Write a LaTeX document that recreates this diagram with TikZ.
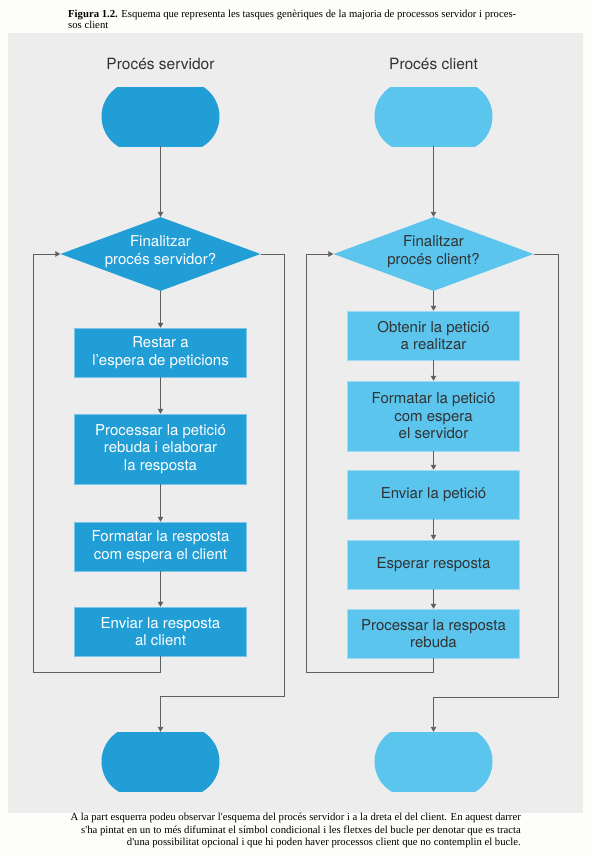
\documentclass[tikz,border=0pt]{standalone}
\usepackage{fontspec}
\setmainfont{Liberation Serif}[Ligatures=TeXOff]
\newfontfamily\helv{TeX Gyre Heros}
\usetikzlibrary{shapes.geometric,arrows.meta}
\definecolor{srv}{RGB}{33,158,214}
\definecolor{cli}{RGB}{91,197,238}
\definecolor{panel}{RGB}{237,237,237}
\definecolor{paper}{RGB}{253,253,249}
\definecolor{lineg}{RGB}{95,95,95}
\definecolor{ctext}{RGB}{50,50,50}
\begin{document}
\begin{tikzpicture}[x=1pt,y=-1pt,
  arr/.style={draw=lineg, line width=0.9pt, -{Triangle[width=5.5pt,length=5pt]}},
  boxs/.style={rectangle, minimum width=172pt, inner sep=0pt, align=center, font=\helv\fontsize{15}{17.5}\selectfont},
  sbox/.style={boxs, fill=srv, draw=srv!60!white, line width=0.5pt, text=white},
  cbox/.style={boxs, fill=cli, draw=cli!60!white, line width=0.5pt, text=ctext},
  term/.style={rectangle, minimum width=118pt, minimum height=59pt, inner sep=0pt,
    path picture={\fill[#1, rounded corners=35.2pt] ([yshift=35.2pt]path picture bounding box.west) rectangle ([yshift=-35.2pt]path picture bounding box.east);}},
  dia/.style={diamond, minimum width=200pt, minimum height=74pt, inner sep=0pt, aspect=2.7},
  dtxt/.style={align=center, inner sep=0pt, font=\helv\fontsize{15}{17.5}\selectfont},
  ttl/.style={inner sep=0pt, text=ctext, font=\helv\fontsize{15.5}{18}\selectfont}]
\useasboundingbox (0,0) rectangle (592,855);
\fill[paper] (0,0) rectangle (592,855);
\fill[panel] (8,33) rectangle (583,813);

% captions
\node[anchor=north west, align=left, inner sep=0pt, font=\fontsize{10.7}{11.8}\selectfont] (capT) at (68,9.5)
 {\textbf{Figura 1.2.} Esquema que representa les tasques genèriques de la majoria de processos servidor i proces-\\sos client};
\node[anchor=north east, align=right, inner sep=0pt, font=\fontsize{10.7}{12.6}\selectfont] (capB) at (521,813)
 {A la part esquerra podeu observar l'esquema del procés servidor i a la dreta el del client. En aquest darrer\\s'ha pintat en un to més difuminat el símbol condicional i les fletxes del bucle per denotar que es tracta\\d'una possibilitat opcional i que hi poden haver processos client que no contemplin el bucle.};

% titles
\node[ttl] (hs) at (160.5,64) {Procés servidor};
\node[ttl] (hc) at (433.5,64) {Procés client};

% server column
\node[term=srv] (ts) at (160.5,116.5) {};
\node[dia, fill=srv] (ds) at (160.5,254) {};
\node[dtxt, text=white] (dsT) at (160.5,251.5) {Finalitzar\\procés servidor?};
\node[sbox, minimum height=49pt] (s1) at (160.5,352.5) {Restar a\\l’espera de peticions};
\node[sbox, minimum height=70pt] (s2) at (160.5,449) {Processar la petició\\rebuda i elaborar\\la resposta};
\node[sbox, minimum height=49pt] (s3) at (160.5,546.5) {Formatar la resposta\\com espera el client};
\node[sbox, minimum height=49pt] (s4) at (160.5,631.5) {Enviar la resposta\\al client};
\node[term=srv] (te) at (160.5,761.5) {};
\coordinate (sL) at (33,672);
\coordinate (sR) at (284,696);

\draw[arr] (ts) -- (ds);
\draw[arr] (ds) -- (s1);
\draw[arr] (s1) -- (s2);
\draw[arr] (s2) -- (s3);
\draw[arr] (s3) -- (s4);
\draw[arr] (s4.south) |- (sL) |- (ds.west);
\draw[arr] (ds.east) -| (sR) -| (te.north);

% client column
\node[term=cli] (tc) at (433.5,116.5) {};
\node[dia, fill=cli] (dc) at (433.5,254) {};
\node[dtxt, text=ctext] (dcT) at (433.5,251.5) {Finalitzar\\procés client?};
\node[cbox, minimum height=49pt] (c1) at (433.5,335.5) {Obtenir la petició\\a realitzar};
\node[cbox, minimum height=70pt] (c2) at (433.5,416) {Formatar la petició\\com espera\\el servidor};
\node[cbox, minimum height=49pt] (c3) at (433.5,494.5) {Enviar la petició};
\node[cbox, minimum height=49pt] (c4) at (433.5,564.5) {Esperar resposta};
\node[cbox, minimum height=49pt] (c5) at (433.5,633.5) {Processar la resposta\\rebuda};
\node[term=cli] (tce) at (433.5,761.5) {};
\coordinate (cL) at (306,672);
\coordinate (cR) at (558,697);

\draw[arr] (tc) -- (dc);
\draw[arr] (dc) -- (c1);
\draw[arr] (c1) -- (c2);
\draw[arr] (c2) -- (c3);
\draw[arr] (c3) -- (c4);
\draw[arr] (c4) -- (c5);
\draw[arr] (c5.south) |- (cL) |- (dc.west);
\draw[arr] (dc.east) -| (cR) -| (tce.north);
\end{tikzpicture}
\end{document}
